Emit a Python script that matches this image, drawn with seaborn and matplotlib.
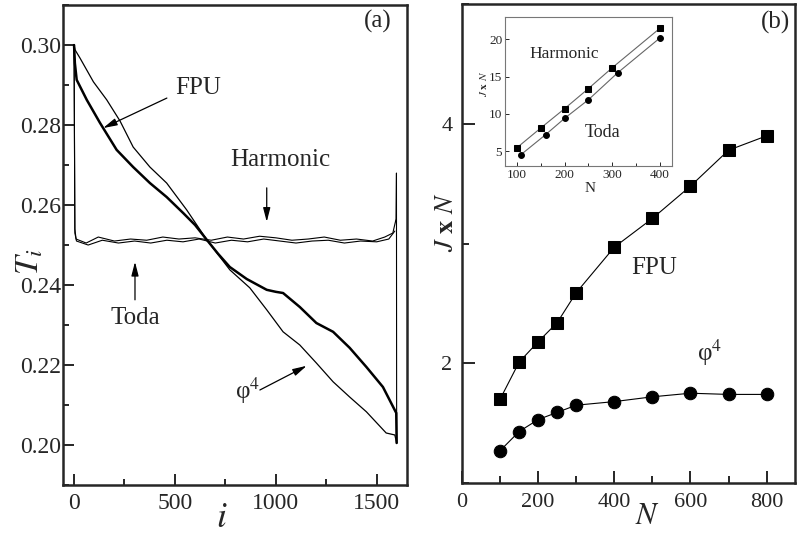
import matplotlib.pyplot as plt
import seaborn as sns
from matplotlib.ticker import MultipleLocator, FormatStrFormatter

# panel (a): temperature profiles T_i along the chain
fpu_i = [0, 4, 13, 63, 129, 211, 293, 376, 459, 541, 600, 658, 714, 772, 856, 955,
         1000, 1036, 1119, 1201, 1284, 1366, 1449, 1531, 1597, 1599]
fpu_T = [0.300, 0.2955, 0.2913, 0.2863, 0.2805, 0.2738, 0.2695, 0.2655, 0.2620, 0.2580,
         0.2550, 0.2513, 0.2478, 0.2445, 0.2415, 0.2388, 0.2383, 0.2380, 0.2345, 0.2305,
         0.2283, 0.2243, 0.2195, 0.2145, 0.2080, 0.2005]

phi_i = [0, 5, 30, 96, 162, 228, 293, 376, 459, 558, 658, 772, 871, 955, 1036, 1119,
         1201, 1284, 1366, 1449, 1547, 1590, 1599]
phi_T = [0.300, 0.2988, 0.2967, 0.2908, 0.2863, 0.2810, 0.2745, 0.2695, 0.2655, 0.2588,
         0.2513, 0.2438, 0.2393, 0.2338, 0.2283, 0.2250, 0.2205, 0.2158, 0.2120, 0.2083,
         0.2030, 0.2025, 0.2005]

harm_i = [0, 4, 10, 60, 120, 200, 280, 360, 440, 520, 600, 680, 760, 840, 920, 1000,
          1080, 1160, 1240, 1320, 1400, 1480, 1540, 1580, 1596, 1598, 1599]
harm_T = [0.300, 0.2540, 0.2515, 0.2505, 0.2520, 0.2510, 0.2515, 0.2512, 0.2520, 0.2515,
          0.2518, 0.2512, 0.2520, 0.2515, 0.2522, 0.2518, 0.2512, 0.2515, 0.2520, 0.2512,
          0.2515, 0.2510, 0.2520, 0.2530, 0.2565, 0.2680, 0.2005]

toda_i = [0, 4, 12, 70, 140, 220, 300, 380, 460, 540, 620, 700, 780, 860, 940, 1020,
          1100, 1180, 1260, 1340, 1420, 1500, 1560, 1590]
toda_T = [0.300, 0.2530, 0.2510, 0.2500, 0.2512, 0.2505, 0.2510, 0.2505, 0.2512, 0.2508,
          0.2515, 0.2505, 0.2512, 0.2508, 0.2515, 0.2510, 0.2505, 0.2510, 0.2512, 0.2505,
          0.2510, 0.2508, 0.2515, 0.2535]

# panel (b): J x N against N
N_main = [100, 150, 200, 250, 300, 400, 500, 600, 700, 800]
fpu_JN = [1.70, 2.01, 2.18, 2.34, 2.59, 2.97, 3.21, 3.48, 3.78, 3.90]
phi_JN = [1.27, 1.43, 1.53, 1.59, 1.65, 1.68, 1.72, 1.75, 1.74, 1.74]

# inset: harmonic and Toda chains
N_harm = [100, 150, 200, 250, 300, 400]
harm_JN = [5.45, 8.1, 10.7, 13.4, 16.2, 21.5]
N_toda = [108, 160, 200, 250, 311, 400]
toda_JN = [4.5, 7.2, 9.4, 11.9, 15.5, 20.2]


def style_ticks(ax, size, major, minor, width, pad):
    ax.tick_params(which='both', direction='in', width=width, labelsize=size, pad=pad,
                   top=False, right=False)
    ax.tick_params(which='major', length=major)
    ax.tick_params(which='minor', length=minor)


def place_labels(ax, xpos, ypos):
    ax.xaxis.label.set_va('center')
    ax.yaxis.label.set_va('center')
    ax.xaxis.set_label_coords(*xpos)
    ax.yaxis.set_label_coords(*ypos)


def arrow(ax, tip, start):
    ax.annotate('', xy=tip, xytext=start,
                arrowprops=dict(arrowstyle='-|>,head_width=0.18,head_length=0.7',
                                color='black', lw=0.9, shrinkA=0, shrinkB=0,
                                mutation_scale=12))


def panel_a(ax):
    for xs, ys, lw in [(harm_i, harm_T, 0.8), (toda_i, toda_T, 0.8),
                       (phi_i, phi_T, 0.9), (fpu_i, fpu_T, 1.8)]:
        sns.lineplot(x=xs, y=ys, ax=ax, color='black', lw=lw, sort=False, estimator=None)
    ax.set_xlim(-55, 1650)
    ax.set_ylim(0.19, 0.31)
    ax.xaxis.set_major_locator(MultipleLocator(500))
    ax.xaxis.set_minor_locator(MultipleLocator(250))
    ax.yaxis.set_major_locator(MultipleLocator(0.02))
    ax.yaxis.set_minor_locator(MultipleLocator(0.01))
    ax.yaxis.set_major_formatter(FormatStrFormatter('%.2f'))
    style_ticks(ax, 17, 8, 4, 1.4, 6)
    ax.tick_params(axis='y', pad=1)
    ax.set_xlabel(r'$i$', fontsize=26)
    ax.set_ylabel(r'$T_i$', fontsize=24)
    place_labels(ax, (0.462, -0.069), (-0.096, 0.465))

    ax.text(614, 0.2893, 'FPU', fontsize=18, ha='center', va='center')
    ax.text(1020, 0.2713, 'Harmonic', fontsize=18, ha='center', va='center')
    ax.text(302, 0.2318, 'Toda', fontsize=18, ha='center', va='center')
    ax.text(861, 0.2135, 'φ$^{4}$', fontsize=18, ha='center', va='center')
    arrow(ax, (144, 0.27925), (460, 0.28675))
    arrow(ax, (955, 0.2558), (955, 0.2643))
    arrow(ax, (302, 0.2458), (302, 0.2363))
    arrow(ax, (1153, 0.2198), (921, 0.21375))
    ax.text(0.916, 0.965, '(a)', transform=ax.transAxes, fontsize=18, ha='center', va='center')


def panel_b(ax):
    sns.lineplot(x=N_main, y=fpu_JN, ax=ax, color='black', lw=0.8, marker='s',
                 markersize=8.5, markeredgecolor='black', estimator=None)
    sns.lineplot(x=N_main, y=phi_JN, ax=ax, color='black', lw=0.8, marker='o',
                 markersize=9, markeredgecolor='black', estimator=None)
    ax.set_xlim(0, 875)
    ax.set_ylim(1, 5)
    ax.xaxis.set_major_locator(MultipleLocator(200))
    ax.xaxis.set_minor_locator(MultipleLocator(100))
    ax.yaxis.set_major_locator(MultipleLocator(2))
    ax.yaxis.set_minor_locator(MultipleLocator(1))
    style_ticks(ax, 16, 9, 5, 1.4, 7)
    ax.set_xlabel(r'$N$', fontsize=22)
    ax.set_ylabel(r'$J$ $\mathbf{x}$ $N$', fontsize=19)
    place_labels(ax, (0.555, -0.071), (-0.045, 0.545))
    ax.text(505, 2.795, 'FPU', fontsize=18, ha='center', va='center')
    ax.text(650, 2.09, 'φ$^{4}$', fontsize=18, ha='center', va='center')
    ax.text(0.94, 0.962, '(b)', transform=ax.transAxes, fontsize=18, ha='center', va='center')


def inset(ax):
    sns.lineplot(x=N_harm, y=harm_JN, ax=ax, color='#666666', lw=0.8, marker='s',
                 markersize=4, markerfacecolor='black', markeredgecolor='black', estimator=None)
    sns.lineplot(x=N_toda, y=toda_JN, ax=ax, color='#666666', lw=0.8, marker='o',
                 markersize=4.2, markerfacecolor='black', markeredgecolor='black', estimator=None)
    ax.set_xlim(75, 425)
    ax.set_ylim(3, 23)
    ax.xaxis.set_major_locator(MultipleLocator(100))
    ax.xaxis.set_minor_locator(MultipleLocator(50))
    ax.yaxis.set_major_locator(MultipleLocator(5))
    style_ticks(ax, 9.5, 3, 2, 0.7, 2)
    for s in ax.spines.values():
        s.set_color('#777777')
        s.set_linewidth(0.8)
    ax.set_xlabel('N', fontsize=11)
    ax.set_ylabel(r'$J$ $\mathbf{x}$ $N$', fontsize=8)
    place_labels(ax, (0.51, -0.148), (-0.13, 0.55))
    ax.text(200, 18.0, 'Harmonic', fontsize=12.5, ha='center', va='center')
    ax.text(279, 7.5, 'Toda', fontsize=13, ha='center', va='center')


def main():
    sns.set_style('ticks')
    plt.rcParams['font.family'] = ['Liberation Serif', 'DejaVu Serif']
    plt.rcParams['mathtext.fontset'] = 'stix'
    plt.rcParams['axes.linewidth'] = 1.8

    fig = plt.figure(figsize=(7.97, 5.35), dpi=100)
    ax_a = fig.add_axes([0.079, 0.0935, 0.4316, 0.897])
    ax_b = fig.add_axes([0.5797, 0.0972, 0.418, 0.895])
    ax_in = fig.add_axes([0.6336, 0.6897, 0.2095, 0.2785])

    panel_a(ax_a)
    panel_b(ax_b)
    inset(ax_in)

    fig.savefig('out.png', dpi=100, facecolor='white')


if __name__ == "__main__":
    main()
